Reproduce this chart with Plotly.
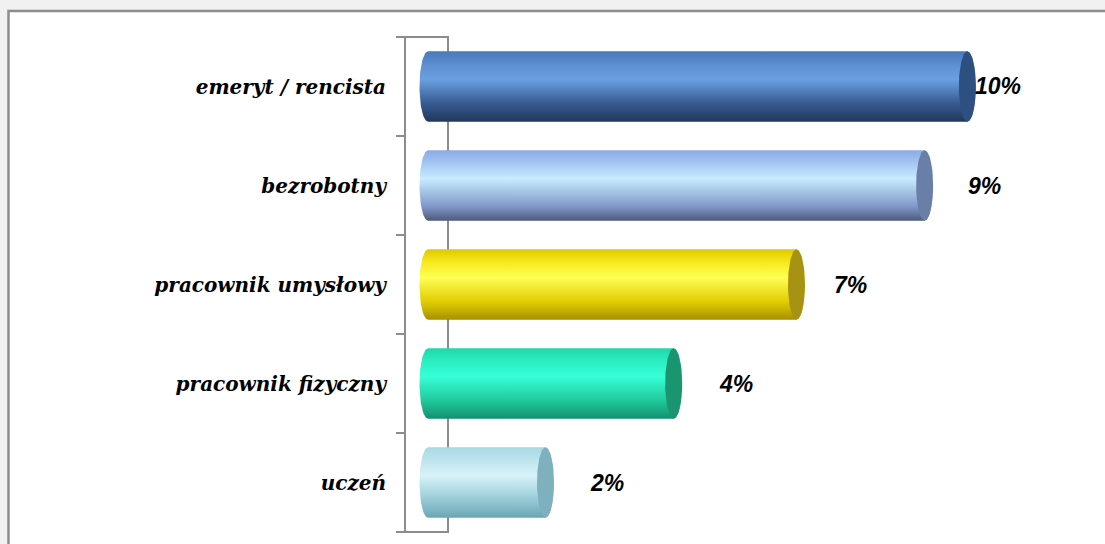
import numpy as np
import plotly.graph_objects as go

# ---- data (top to bottom) ----
categories = ["emeryt / rencista", "bezrobotny", "pracownik umysłowy", "pracownik fizyczny", "uczeń"]
values = [10.1, 9.3, 6.9, 4.6, 2.2]
value_labels = ["10%", "9%", "7%", "4%", "2%"]

# ---- styles ----
body_scales = [
    [[0, "#22385c"], [0.25, "#36598f"], [0.6, "#6a9fe0"], [0.78, "#5f92d4"], [1, "#4a78bb"]],
    [[0, "#4d5a7a"], [0.2, "#7f98c8"], [0.6, "#c8ecff"], [0.8, "#a8c8f4"], [1, "#8aaae6"]],
    [[0, "#a89000"], [0.25, "#e0cc00"], [0.6, "#ffff55"], [0.8, "#f8ec20"], [1, "#e0c800"]],
    [[0, "#129070"], [0.25, "#20c898"], [0.6, "#36ffd8"], [0.8, "#2cf0c4"], [1, "#1ed8a8"]],
    [[0, "#6aa6b6"], [0.3, "#9fd0dc"], [0.6, "#d8f2f8"], [1, "#a8d8e4"]],
]
cap_colors = ["#2e5080", "#6a7fa8", "#a89214", "#1b9570", "#7fb0bd"]
label_shift = [31, 60, 54, 62, 62]

W, H = 1105, 544
px_per_unit = 53.4
zero_px = 428
ax_left_px, back_px = 405, 448
top_px, bot_px = 37, 532

n = len(categories)
ypos = list(range(n - 1, -1, -1))
half_h = 0.355
half_w = 8.5 / px_per_unit

fig = go.Figure()
t_right = np.linspace(np.pi / 2, -np.pi / 2, 40)
t_left = np.linspace(-np.pi / 2, -3 * np.pi / 2, 40)
t_full = np.linspace(0, 2 * np.pi, 80)
for i, (v, yc) in enumerate(zip(values, ypos)):
    xs = np.concatenate([v + half_w * np.cos(t_right), 0 + half_w * np.cos(t_left)])
    ys = np.concatenate([yc + half_h * np.sin(t_right), yc + half_h * np.sin(t_left)])
    fig.add_trace(go.Scatter(
        x=xs, y=ys, mode="lines", fill="toself", line=dict(width=0),
        fillgradient=dict(type="vertical", colorscale=body_scales[i],
                          start=yc - half_h, stop=yc + half_h),
        hoverinfo="skip", showlegend=False))
    fig.add_trace(go.Scatter(
        x=v + half_w * np.cos(t_full), y=yc + half_h * np.sin(t_full),
        mode="lines", fill="toself", fillcolor=cap_colors[i], line=dict(width=0),
        hoverinfo="skip", showlegend=False))
    fig.add_annotation(x=v, y=yc, text=value_labels[i], showarrow=False,
                       xanchor="center", yanchor="middle", xshift=label_shift[i],
                       font=dict(family="Liberation Sans", size=23, color="black",
                                 weight="bold", style="italic"))

fig.update_layout(
    width=W, height=H, autosize=False,
    margin=dict(l=0, r=0, t=0, b=0),
    paper_bgcolor="#f1f1f1", plot_bgcolor="rgba(0,0,0,0)",
    xaxis=dict(domain=[ax_left_px / W, 1], visible=False,
               range=[-(zero_px - ax_left_px) / px_per_unit, (W - zero_px) / px_per_unit],
               fixedrange=True),
    yaxis=dict(domain=[(H - bot_px) / H, (H - top_px) / H], range=[-0.5, n - 0.5],
               tickmode="array", tickvals=ypos, ticktext=categories, ticks="",
               showgrid=False, zeroline=False, showline=False, automargin=False,
               ticklabelstandoff=18,
               tickfont=dict(family="DejaVu Serif", size=20, color="black",
                             weight="bold", style="italic"),
               minor=dict(tickmode="array", tickvals=[k - 0.5 for k in range(n + 1)],
                          ticks="outside", ticklen=8, tickwidth=2, tickcolor="#8c8c8c",
                          showgrid=False)),
    shapes=[
        dict(type="rect", xref="paper", yref="paper", layer="below",
             x0=8.5 / W, x1=1.05, y0=-0.05, y1=1 - 11 / H,
             fillcolor="white", line=dict(color="#8c8c8c", width=2.5)),
        dict(type="rect", xref="paper", yref="paper", layer="below",
             x0=ax_left_px / W, x1=back_px / W, y0=(H - bot_px) / H, y1=(H - top_px) / H,
             fillcolor="rgba(0,0,0,0)", line=dict(color="#8c8c8c", width=2)),
    ],
)
fig.write_html("out.html")
